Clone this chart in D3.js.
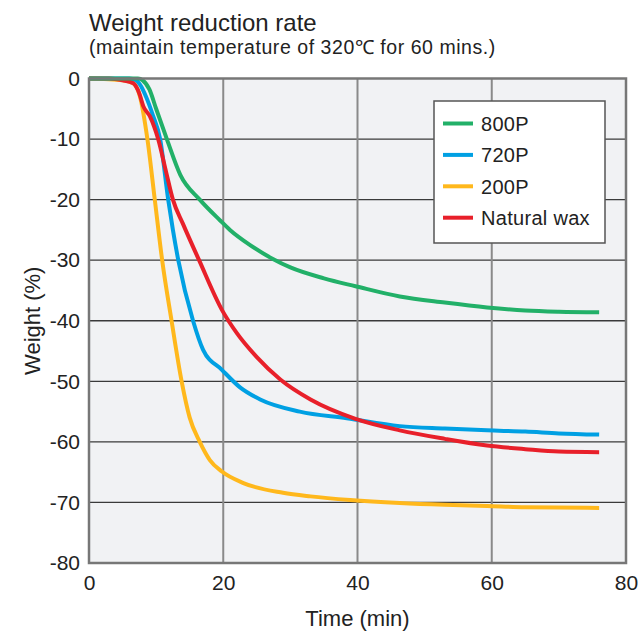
<!DOCTYPE html>
<html>
<head>
<meta charset="utf-8">
<script src="https://cdn.jsdelivr.net/npm/d3@7"></script>
<style>
    body { margin: 0; background: #fff; }
    svg text { font-family: "Liberation Sans", Arial, Helvetica, sans-serif; fill: #222; }
</style>
</head>
<body>
<svg id="chart_svg" width="643" height="632"></svg>
<script>
// データ
var seriesNames = ['800P', '720P', '200P', 'Natural wax'];
var seriesColors = ['#22b068', '#00a0e3', '#ffb81c', '#e8202a'];

var time800P = [0, 5, 7.3, 8, 9, 10, 11.6, 13.6, 16.5, 19.5, 21, 24, 27.4, 30, 35, 39.7, 46.3, 53, 59.3, 65, 70, 76];
var weight800P = [0, 0, 0, -0.3, -1.8, -5, -10, -15.9, -20, -23.4, -25, -27.5, -29.8, -31.2, -33, -34.3, -36, -37, -37.8, -38.3, -38.5, -38.6];

var time720P = [0, 6, 7, 7.6, 8.5, 9.5, 10.6, 11.8, 12.5, 13.3, 15.5, 17, 19.8, 22.5, 25.5, 31.4, 38.4, 46.3, 53, 59.3, 65, 70, 76];
var weight720P = [0, 0, -0.3, -1, -3, -6, -10, -20, -25, -30, -40, -44.8, -48.1, -51, -53, -55, -56.1, -57.4, -57.8, -58.1, -58.3, -58.6, -58.8];

var time200P = [0, 5, 6.6, 7.6, 8.7, 9.8, 10.9, 12.3, 13.8, 15, 16.5, 18, 19.8, 23, 28.9, 33, 38.9, 46.3, 53, 59.3, 65, 70, 76];
var weight200P = [0, -0.3, -0.8, -3, -10, -20, -30, -40, -50, -56, -60, -63, -64.9, -66.8, -68.4, -69, -69.6, -70.1, -70.4, -70.6, -70.8, -70.85, -70.9];

var timeWax = [0, 3, 5, 6.6, 7.5, 8.1, 9.1, 10.3, 11.5, 12.5, 14, 16.4, 19.8, 22, 25, 28.5, 33, 39.7, 46.3, 53, 59.3, 65, 70, 76];
var weightWax = [0, 0, -0.3, -0.8, -2.5, -4.6, -6.3, -10, -15.5, -20, -24, -30, -38.2, -42, -46, -49.7, -53, -56.2, -58.1, -59.5, -60.6, -61.2, -61.6, -61.7];

var xTicks = [0, 20, 40, 60, 80];
var yTicks = [0, -10, -20, -30, -40, -50, -60, -70, -80];

drawChart();

function drawChart(){
    // - - - - 設定 - - - -
    var PlotLeft = 89, PlotRight = 626;
    var PlotTop = 78.5, PlotBottom = 563;
    // - - - - - - - - - -
    var svg = d3.select('#chart_svg');

    var x = d3.scaleLinear().domain([0, 80]).range([PlotLeft, PlotRight]);
    var y = d3.scaleLinear().domain([0, -80]).range([PlotTop, PlotBottom]);

    // タイトル
    svg.append('text').attr('x', 89).attr('y', 31)
        .style('font-size', '24px').text('Weight reduction rate');
    svg.append('text').attr('x', 89).attr('y', 54)
        .style('font-size', '19.5px').style('letter-spacing', '0.55px')
        .text('(maintain temperature of 320℃ for 60 mins.)');

    // 背景
    svg.append('rect')
        .attr('x', x(0)).attr('y', y(0))
        .attr('width', x(80) - x(0)).attr('height', y(-80) - y(0))
        .attr('fill', '#f1f2f4');

    // グリッド
    svg.append('g').selectAll('line')
        .data(yTicks.filter(d => d !== 0 && d !== -80))
        .join('line')
        .attr('x1', x(0)).attr('x2', x(80))
        .attr('y1', d => y(d)).attr('y2', d => y(d))
        .attr('stroke', '#3a3a3a').attr('stroke-width', 1.3);
    svg.append('g').selectAll('line')
        .data(xTicks.filter(d => d !== 0 && d !== 80))
        .join('line')
        .attr('x1', d => x(d)).attr('x2', d => x(d))
        .attr('y1', y(0)).attr('y2', y(-80))
        .attr('stroke', '#8a8a8a').attr('stroke-width', 2);

    // 線
    var series = [
        {name: seriesNames[0], t: time800P, w: weight800P},
        {name: seriesNames[1], t: time720P, w: weight720P},
        {name: seriesNames[2], t: time200P, w: weight200P},
        {name: seriesNames[3], t: timeWax, w: weightWax}
    ];
    var line = d3.line()
        .x(d => x(d[0])).y(d => y(d[1]))
        .curve(d3.curveMonotoneX);
    // 描画順: 200P, 720P, Natural wax, 800P
    [2, 1, 3, 0].forEach(function(i){
        var s = series[i];
        svg.append('path')
            .datum(s.t.map((t, k) => [t, s.w[k]]))
            .attr('d', line)
            .attr('fill', 'none')
            .attr('stroke', seriesColors[i])
            .attr('stroke-width', 4)
            .attr('stroke-linejoin', 'round');
    });

    // 枠
    svg.append('rect')
        .attr('x', x(0)).attr('y', y(0))
        .attr('width', x(80) - x(0)).attr('height', y(-80) - y(0))
        .attr('fill', 'none')
        .attr('stroke', '#777').attr('stroke-width', 2.5);

    // 軸
    var xAxis = svg.append('g')
        .attr('transform', 'translate(0,' + (y(-80) + 8) + ')')
        .call(d3.axisBottom(x).tickValues(xTicks).tickSize(0).tickPadding(4).tickFormat(d => String(d)));
    xAxis.select('.domain').remove();
    xAxis.selectAll('text').style('font-size', '21px').attr('fill', '#222');

    var yAxis = svg.append('g')
        .attr('transform', 'translate(' + (x(0) - 9) + ',0)')
        .call(d3.axisLeft(y).tickValues(yTicks).tickSize(0).tickPadding(0).tickFormat(d => String(d)));
    yAxis.select('.domain').remove();
    yAxis.selectAll('text').style('font-size', '21px').attr('fill', '#222');

    // 軸タイトル
    svg.append('text')
        .attr('x', (x(0) + x(80)) / 2).attr('y', 626)
        .attr('text-anchor', 'middle')
        .style('font-size', '22px').text('Time (min)');
    svg.append('text')
        .attr('transform', 'translate(40,' + ((y(0) + y(-80)) / 2) + ') rotate(-90)')
        .attr('text-anchor', 'middle')
        .style('font-size', '22px').text('Weight (%)');

    // 凡例
    var lg = svg.append('g').attr('transform', 'translate(434,101)');
    lg.append('rect')
        .attr('width', 171).attr('height', 142)
        .attr('fill', '#fff').attr('stroke', '#555').attr('stroke-width', 1.5);
    seriesNames.forEach(function(name, i){
        var cy = 22.5 + i * 31.4;
        lg.append('line')
            .attr('x1', 9).attr('x2', 39).attr('y1', cy).attr('y2', cy)
            .attr('stroke', seriesColors[i]).attr('stroke-width', 4);
        lg.append('text')
            .attr('x', 47).attr('y', cy).attr('dy', '0.36em')
            .style('font-size', '20px').style('letter-spacing', '0.3px')
            .text(name);
    });
}
</script>
</body>
</html>
